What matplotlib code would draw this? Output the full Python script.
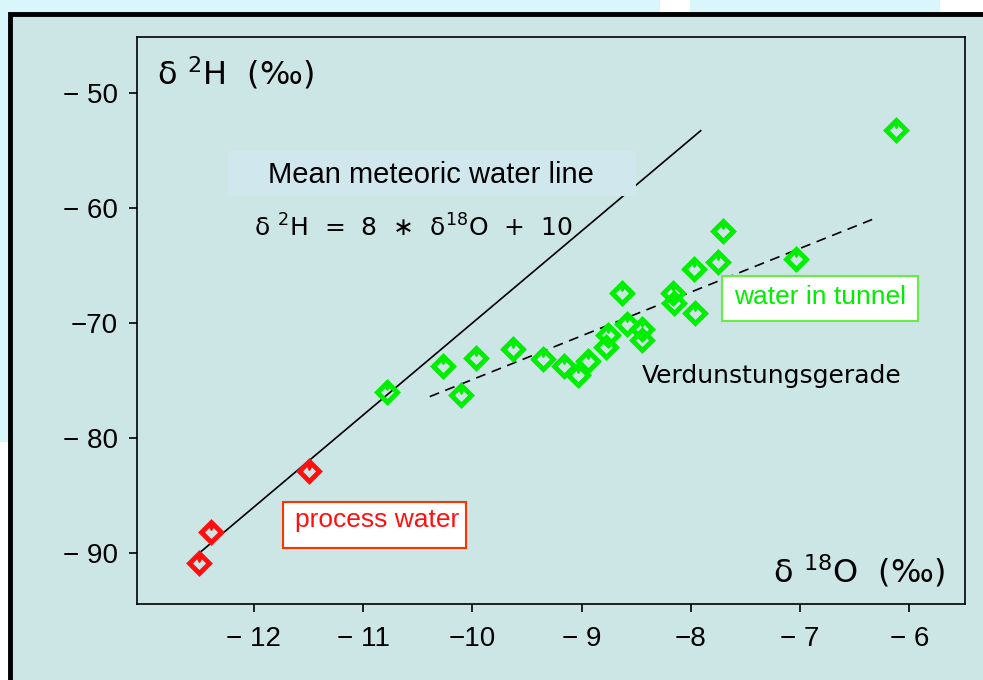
import matplotlib.pyplot as plt
from matplotlib.patches import Rectangle
from matplotlib import transforms

# isotope data (delta 18O, delta 2H in permil)
tunnel_o18 = [-10.78, -10.27, -10.10, -9.97, -9.63, -9.35, -9.16, -9.03, -8.94,
              -8.78, -8.76, -8.63, -8.58, -8.45, -8.45, -8.16, -8.15, -7.97,
              -7.96, -7.75, -7.71, -7.04, -6.12]
tunnel_h2 = [-76.0, -73.7, -76.3, -73.0, -72.3, -73.1, -73.7, -74.5, -73.3,
             -72.1, -71.0, -67.4, -70.1, -70.5, -71.5, -67.4, -68.3, -65.3,
             -69.1, -64.7, -62.0, -64.4, -53.2]
process_o18 = [-12.50, -12.39, -11.50]
process_h2 = [-90.9, -88.2, -82.9]

# mean meteoric water line d2H = 8*d18O + 10
mwl_o18 = [-12.5, -7.91]
mwl_h2 = [8 * v + 10 for v in mwl_o18]
# evaporation line
evap_o18 = [-10.39, -6.34]
evap_h2 = [-76.4, -61.0]

xticks = [-12, -11, -10, -9, -8, -7, -6]
xtick_labels = ['\u2212 12', '\u2212 11', '\u221210', '\u2212 9', '\u22128', '\u2212 7', '\u2212 6']
yticks = [-90, -80, -70, -60, -50]
ytick_labels = ['\u2212 90', '\u2212 80', '\u221270', '\u2212 60', '\u2212 50']

bg = '#cce5e5'
green = '#00ee00'
red = '#ff1010'

fig = plt.figure(figsize=(9.83, 6.8), dpi=100, facecolor='#d9f7fb')
fig.patches.append(Rectangle((660/983, 1-12/680), 30/983, 12/680, transform=fig.transFigure,
                             fc='white', ec='none', zorder=-2))
fig.patches.append(Rectangle((940/983, 1-12/680), 43/983, 12/680, transform=fig.transFigure,
                             fc='white', ec='none', zorder=-2))
fig.patches.append(Rectangle((0, 0), 8/983, 238/680, transform=fig.transFigure,
                             fc='white', ec='none', zorder=-2))
fig.patches.append(Rectangle((10/983, -0.1), 1.2, 1.1-14/680, transform=fig.transFigure,
                             fc=bg, ec='black', lw=3.5, zorder=-1))

ax = fig.add_axes([0.1394, 0.1118, 0.8423, 0.8338])
ax.set_facecolor(bg)
ax.set_xlim(-13.07, -5.49)
ax.set_ylim(-94.43, -45.13)
for s in ax.spines.values():
    s.set_linewidth(1.2)

ax.set_xticks(xticks)
ax.set_xticklabels(xtick_labels, fontfamily='Liberation Sans', fontsize=20)
ax.set_yticks(yticks)
ax.set_yticklabels(ytick_labels, fontfamily='Liberation Sans', fontsize=20)
ax.tick_params(axis='x', direction='out', length=6, width=1.2, pad=10)
ax.tick_params(axis='y', direction='out', length=6, width=1.2, pad=8)

# lines
ax.plot(mwl_o18, mwl_h2, color='black', lw=1.2, zorder=2)
ax.plot(evap_o18, evap_h2, color='black', lw=1.2, ls=(0, (6, 4)), zorder=2)

# points: hollow diamonds with small notch
notch = transforms.offset_copy(ax.transData, fig=fig, x=0, y=3.5, units='points')
ax.plot(tunnel_o18, tunnel_h2, ls='none', marker='D', ms=10, mfc='none', mec=green, mew=3.5, zorder=5)
ax.plot(tunnel_o18, tunnel_h2, ls='none', marker='v', ms=5, color=green, transform=notch, zorder=5)
ax.plot(process_o18, process_h2, ls='none', marker='D', ms=10, mfc='none', mec=red, mew=3.5, zorder=5)
ax.plot(process_o18, process_h2, ls='none', marker='v', ms=5, color=red, transform=notch, zorder=5)

# annotations
ax.add_patch(Rectangle((-12.24, -58.96), 3.74, 3.92, fc='#d0e7ee', ec='none', zorder=3))
ax.text(-10.38, -57.1, 'Mean meteoric water line', fontfamily='Liberation Sans', fontsize=21,
        ha='center', va='center', zorder=4)
ax.text(-12.0, -61.7, 'δ $^{2}$H  =  8  \u2217  δ$^{18}$O  +  10', fontsize=18,
        ha='left', va='center', zorder=4)

ax.add_patch(Rectangle((-7.714, -69.83), 1.795, 3.92, fc='white', ec='#66ee44', lw=1.5, zorder=3))
ax.text(-6.817, -67.7, 'water in tunnel', color=green, fontfamily='Liberation Sans', fontsize=19,
        ha='center', va='center', zorder=4)

ax.add_patch(Rectangle((-11.734, -89.57), 1.675, 4.0, fc='white', ec='#ff3300', lw=1.5, zorder=3))
ax.text(-10.87, -87.1, 'process water', color=red, fontfamily='Liberation Sans', fontsize=19,
        ha='center', va='center', zorder=4)

ax.text(-8.45, -74.6, 'Verdunstungsgerade', fontsize=18, ha='left', va='center', zorder=4)

ax.text(-12.89, -48.3, 'δ $^{2}$H  (‰)', fontsize=23, ha='left', va='center')
ax.text(-5.67, -91.6, 'δ $^{18}$O  (‰)', fontsize=23, ha='right', va='center')

fig.savefig('out.png', dpi=100, facecolor=fig.get_facecolor())
